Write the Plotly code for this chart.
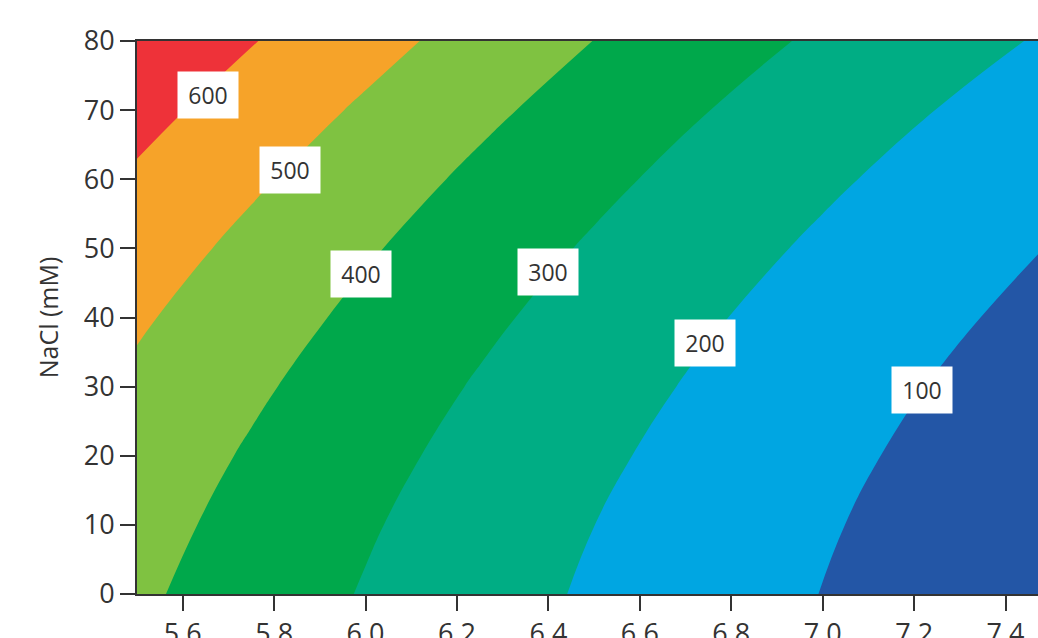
import plotly.graph_objects as go

ph = [5.5, 5.75, 6.0, 6.25, 6.5, 6.75, 7.0, 7.25, 7.5]
nacl = [0, 10, 20, 30, 40, 50, 60, 70, 80]

# estimated response values (rows = NaCl, cols = pH)
row_0 = [416.0, 352.9, 293.9, 238.9, 188.0, 141.2, 98.4, 59.7, 25.0]
row_10 = [434.0, 369.5, 309.0, 252.6, 200.3, 152.0, 107.8, 67.6, 31.5]
row_20 = [456.0, 390.0, 328.1, 270.3, 216.5, 166.8, 121.1, 79.5, 42.0]
row_30 = [482.0, 414.6, 351.3, 292.0, 236.8, 185.6, 138.5, 95.5, 56.5]
row_40 = [512.0, 443.2, 378.4, 317.7, 261.0, 208.4, 159.9, 115.4, 75.0]
row_50 = [547.0, 475.7, 409.5, 347.4, 289.3, 235.2, 185.3, 138.4, 97.0]
row_60 = [587.0, 514.3, 445.6, 381.0, 321.5, 266.0, 214.6, 167.3, 122.0]
row_70 = [631.0, 556.9, 486.8, 419.7, 357.8, 300.9, 248.0, 199.2, 154.5]
row_80 = [680.0, 604.4, 532.9, 463.4, 399.0, 339.7, 285.4, 235.2, 189.0]

levels = [100, 200, 300, 400, 500, 600]
level_labels = ["100", "200", "300", "400", "500", "600"]
label_ph = [7.217, 6.742, 6.399, 5.989, 5.834, 5.655]
label_nacl = [29.5, 36.3, 46.6, 46.3, 61.3, 72.2]

x_ticks = [5.6, 5.8, 6.0, 6.2, 6.4, 6.6, 6.8, 7.0, 7.2, 7.4]
y_ticks = [0, 10, 20, 30, 40, 50, 60, 70, 80]

band_colors = ["#2356A6", "#00A6E2", "#00AD84", "#00A84B", "#7FC241", "#F6A329", "#EE3239"]

z = [row_0, row_10, row_20, row_30, row_40, row_50, row_60, row_70, row_80]

# stepped colorscale: band centers at 50,150,...,650 with zmin=50, zmax=650
zmin, zmax = 50, 650
cs = []
n = len(band_colors)
for i, c in enumerate(band_colors):
    lo = 0.0 if i == 0 else (levels[i - 1] - zmin) / (zmax - zmin)
    hi = 1.0 if i == n - 1 else (levels[i] - zmin) / (zmax - zmin)
    cs.append([lo, c])
    cs.append([hi, c])

fig = go.Figure()
fig.add_trace(go.Contour(
    x=ph, y=nacl, z=z,
    contours=dict(start=levels[0], end=levels[-1], size=100, coloring="fill", showlines=False),
    colorscale=cs, zauto=False, zmin=zmin, zmax=zmax,
    line=dict(width=0, smoothing=1.3),
    showscale=False, hoverinfo="skip",
))

for t, xx, yy in zip(level_labels, label_ph, label_nacl):
    fig.add_annotation(
        x=xx, y=yy, xref="x", yref="y", text=t, showarrow=False,
        bgcolor="white", width=60, height=46, borderpad=0,
        font=dict(family="Open Sans", size=23, color="#333333"),
    )

fig.update_layout(
    width=1038, height=638,
    margin=dict(l=137, r=0, t=41, b=44),
    paper_bgcolor="white", plot_bgcolor="white",
    font=dict(family="Open Sans", color="#333333"),
    showlegend=False,
)
fig.update_xaxes(
    range=[5.5, 7.471], tickvals=x_ticks, ticktext=[f"{v:.1f}" for v in x_ticks],
    ticks="outside", ticklen=15, tickwidth=1.5, tickcolor="#333333",
    showline=True, linecolor="#333333", linewidth=2, mirror=True,
    showgrid=False, zeroline=False, automargin=False,
    ticklabelstandoff=0,
    tickfont=dict(family="Open Sans", size=27, color="#333333"),
)
fig.update_yaxes(
    range=[0, 80], tickvals=y_ticks,
    ticks="outside", ticklen=15, tickwidth=1.5, tickcolor="#333333",
    showline=True, linecolor="#333333", linewidth=2,
    showgrid=False, zeroline=False, automargin=False,
    tickfont=dict(family="Open Sans", size=27, color="#333333"),
    title=dict(text="NaCl (mM)", font=dict(family="Open Sans", size=25, color="#333333"), standoff=18),
)

fig.write_html("out.html")
